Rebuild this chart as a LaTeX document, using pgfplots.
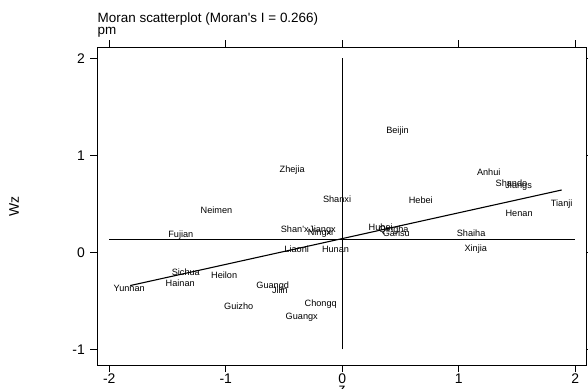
\documentclass[border=0pt]{standalone}
\usepackage{pgfplots}
\pgfplotsset{compat=1.18}
\usepackage{fontspec}
\setmainfont{Liberation Sans}[Ligatures=TeXOff]
\pgfplotstableread{
name x y
Beijin 0.474 1.261
Anhui 1.257 0.825
Shando 1.452 0.714
Jiangs 1.514 0.694
Hebei 0.674 0.534
Tianji 1.883 0.501
Henan 1.518 0.401
Shaiha 1.106 0.199
Xinjia 1.146 0.039
Hubei 0.330 0.262
Qingha 0.442 0.236
Gansu 0.464 0.196
Zhejia -0.430 0.852
Neimen -1.080 0.433
Shanxi -0.045 0.542
Fujian -1.386 0.184
Shan'x -0.408 0.240
Jiangx -0.170 0.240
Ningxi -0.187 0.209
Liaoni -0.391 0.027
Hunan -0.058 0.027
Sichua -1.343 -0.206
Heilon -1.014 -0.234
Hainan -1.391 -0.320
Yunnan -1.829 -0.371
Guangd -0.597 -0.337
Jilin -0.535 -0.392
Guizho -0.889 -0.553
Chongq -0.185 -0.526
Guangx -0.348 -0.657
}\provdata
\begin{document}
\begin{tikzpicture}
\path[use as bounding box] (-97.5bp,-24bp) rectangle (490.5bp,365bp);
\begin{axis}[
  at={(0,0)}, anchor=south west, scale only axis,
  width=489.2bp, height=317.7bp,
  xmin=-2.101, xmax=2.098, ymin=-1.162, ymax=2.113,
  xtick={-2,-1,0,1,2}, xticklabels={-2,-1,0,1,2},
  ytick={-1,0,1,2}, yticklabels={-1,0,1,2},
  tick align=outside, major tick length=7bp,
  tick style={black, line width=0.7bp},
  axis line style={black, line width=0.8bp},
  ticklabel style={font=\fontsize{14}{14}\selectfont},
  xticklabel style={anchor=north, inner sep=0pt, yshift=-2bp},
  yticklabel style={anchor=east, inner sep=0pt, xshift=-5.5bp},
  clip=false,
  title={Moran scatterplot (Moran's I = 0.266)\\pm},
  every axis title/.style={at={(rel axis cs:0,1)}, anchor=north west, yshift=35.2bp, inner sep=0pt, align=left, font=\fontsize{13.5}{12.3}\selectfont},
  xlabel={z},
  every axis x label/.style={at={(axis description cs:0.5,-0.078)}, anchor=center, font=\fontsize{14}{14}\selectfont},
  ylabel={Wz},
  every axis y label/.style={at={(axis description cs:-0.1707,0.5)}, rotate=90, anchor=center, font=\fontsize{14}{14}\selectfont},
]
\addplot[black, line width=0.8bp] coordinates {(0,-1) (0,2)};
\addplot[black, line width=0.8bp] coordinates {(-2,0.135) (2,0.135)};
\addplot[black, line width=1.1bp] coordinates {(-1.82,-0.343) (1.883,0.642)};
\addplot[draw=none, mark=none, nodes near coords, nodes near coords align={center},
  point meta=explicit symbolic,
  every node near coord/.append style={font=\fontsize{9.2}{9.2}\selectfont, inner sep=0pt, text height=6.5bp, text depth=0pt}]
  table[x=x, y=y, meta=name] {\provdata};
\end{axis}
\end{tikzpicture}
\end{document}
